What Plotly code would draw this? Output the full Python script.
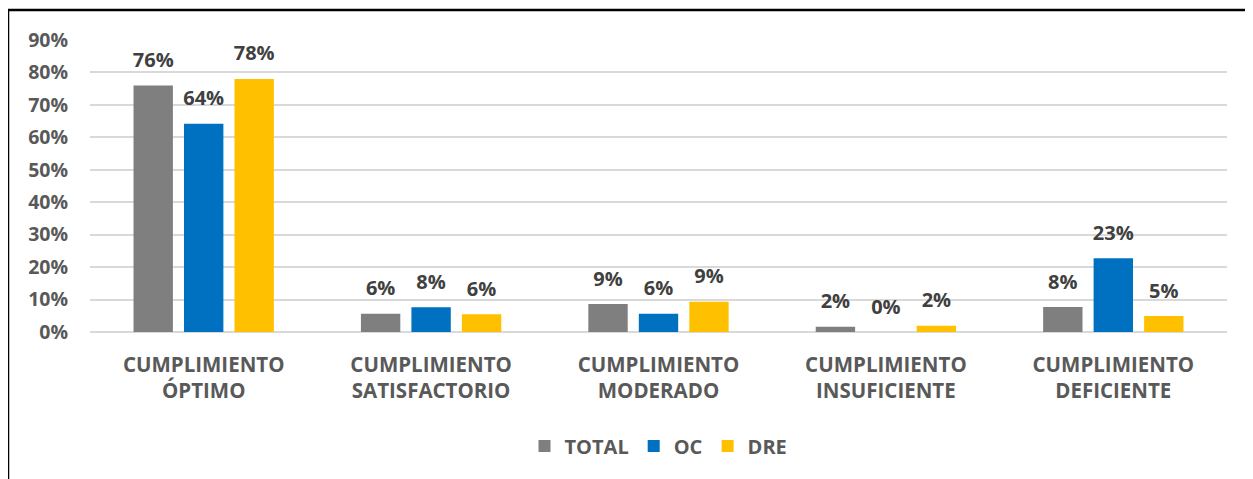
import plotly.graph_objects as go

categories = ["CUMPLIMIENTO<br>ÓPTIMO", "CUMPLIMIENTO<br>SATISFACTORIO", "CUMPLIMIENTO<br>MODERADO",
              "CUMPLIMIENTO<br>INSUFICIENTE", "CUMPLIMIENTO<br>DEFICIENTE"]
total = [0.76, 0.056, 0.086, 0.016, 0.077]
oc = [0.642, 0.076, 0.056, 0.0, 0.227]
dre = [0.78, 0.055, 0.093, 0.019, 0.049]
series = [("TOTAL", total, "#7f7f7f"), ("OC", oc, "#0070c0"), ("DRE", dre, "#ffc000")]
y_ticks = [0, 0.1, 0.2, 0.3, 0.4, 0.5, 0.6, 0.7, 0.8, 0.9]

FONT = "Open Sans"
fig = go.Figure()
for name, vals, col in series:
    fig.add_trace(go.Bar(x=categories, y=vals, name=name, marker=dict(color=col, line=dict(width=0))))
for name, vals, col in series:
    fig.add_trace(go.Scatter(x=categories, y=vals, mode="markers+text", showlegend=False,
                             marker=dict(size=20, color="rgba(0,0,0,0)"),
                             text=[f"{round(v*100)}%" for v in vals], textposition="top center",
                             textfont=dict(family=FONT, size=20, color="#404040", weight="bold"),
                             hoverinfo="skip", cliponaxis=False))

OFF = 8  # page body margin
W, H = 1253 - OFF, 479 - OFF
L, T = 90 - OFF, 40 - OFF
R = W - (1227 - OFF)
B = H - (332 - OFF)
pw, ph = W - L - R, H - T - B
def px(x): return (x - OFF - L) / pw
def py(y): return (H - B - (y - OFF)) / ph

fig.update_layout(
    width=W, height=H, barmode="group", bargap=0.334, bargroupgap=0.22,
    scattermode="group", scattergap=0.334,
    margin=dict(l=L, r=R, t=T, b=B), paper_bgcolor="white", plot_bgcolor="white",
    font=dict(family=FONT, color="#595959"),
    legend=dict(orientation="h", x=0.5, xanchor="center", y=py(446), yanchor="middle",
                font=dict(family=FONT, size=20, color="#595959", weight="bold"), traceorder="normal",
                itemwidth=30),
    xaxis=dict(tickfont=dict(family=FONT, size=20.5, color="#595959", weight="bold"), ticklabelstandoff=18,
               showgrid=False, showline=False),
    yaxis=dict(range=[0, 0.9], tickvals=y_ticks, tickformat=".0%",
               tickfont=dict(family=FONT, size=19.5, color="#595959", weight="bold"),
               gridcolor="#d9d9d9", gridwidth=2, zeroline=True, zerolinecolor="#d9d9d9", zerolinewidth=2,
               ticklabelstandoff=21, showline=False),
    shapes=[
        dict(type="line", xref="paper", yref="paper", x0=px(8), x1=px(1260), y0=py(10), y1=py(10),
             line=dict(color="black", width=2.5)),
        dict(type="line", xref="paper", yref="paper", x0=px(8), x1=px(8), y0=py(10), y1=py(485),
             line=dict(color="black", width=2.5)),
    ],
)
fig.write_html("out.html")
